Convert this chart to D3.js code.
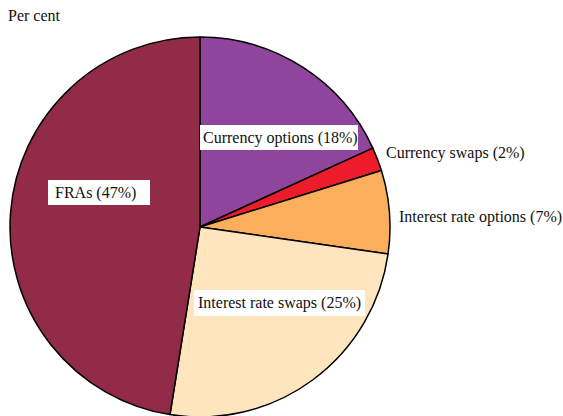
<!DOCTYPE html>
<html>
<head>
<meta charset="utf-8">
<script src="https://cdn.jsdelivr.net/npm/d3@7"></script>
<style>
  body { margin: 0; background: #fff; }
</style>
</head>
<body>
<div id="chart"></div>
<script>
// data
var categories = ['Currency options', 'Currency swaps', 'Interest rate options', 'Interest rate swaps', 'FRAs'];
var shares = [18, 2, 7, 25, 47];
var colours = ['#8f459b', '#ec1c2d', '#fbae5b', '#fee5bd', '#922b47'];

const width = 563, height = 416;
const cx = 200, cy = 227, radius = 190;
const font = '"Liberation Serif"';

var svg = d3.select('#chart').append('svg')
  .attr('width', width)
  .attr('height', height);

svg.append('text')
  .attr('x', 8)
  .attr('y', 21)
  .style('font-family', font)
  .attr('font-size', 16)
  .attr('fill', '#111')
  .text('Per cent');

var pie = d3.pie().sort(null).value(function(d){ return d; });
var arc = d3.arc().innerRadius(0).outerRadius(radius);
var arcs = pie(shares);

var g = svg.append('g').attr('transform', `translate(${cx},${cy})`);

g.selectAll('path')
  .data(arcs)
  .enter().append('path')
  .attr('d', arc)
  .attr('fill', function(d, i){ return colours[i]; })
  .attr('stroke', '#000')
  .attr('stroke-width', 1.5)
  .attr('stroke-linejoin', 'round');

// label placement: text x, baseline y, white box [x0, y0, x1, y1] or null
var label_pos = [
  [203, 143, [200, 125, 358, 150]],
  [386, 158, null],
  [399, 222, null],
  [198, 308, [194, 290, 365, 316]],
  [55, 198, [48, 180, 150, 205]]
];

var labels = svg.append('g');
categories.forEach(function(c, i){
  var p = label_pos[i];
  var lg = labels.append('g');
  if (p[2]) {
    lg.append('rect')
      .attr('x', p[2][0])
      .attr('y', p[2][1])
      .attr('width', p[2][2] - p[2][0])
      .attr('height', p[2][3] - p[2][1])
      .attr('fill', '#fff');
  }
  lg.append('text')
    .attr('x', p[0])
    .attr('y', p[1])
    .style('font-family', font)
    .attr('font-size', 16)
    .attr('fill', '#111')
    .text(c + ' (' + shares[i] + '%)');
});
</script>
</body>
</html>
